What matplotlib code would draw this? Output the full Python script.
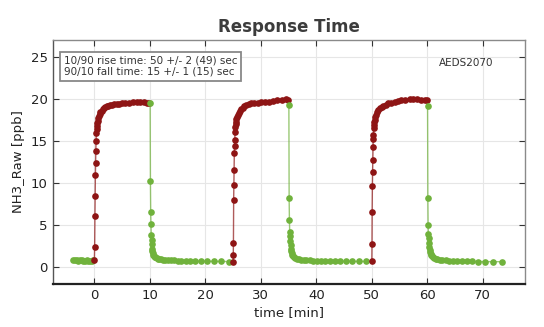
import matplotlib
matplotlib.use("Agg")
import matplotlib.pyplot as plt

# baseline before first step (green = falling / zero air, red = rising / gas on)
g0_t = [-3.8, -3.5, -3.2, -2.9, -2.6, -2.3, -2.0, -1.7, -1.4, -1.1, -0.8, -0.5, -0.2]
g0_v = [0.85, 0.9, 0.8, 0.75, 0.85, 0.8, 0.7, 0.75, 0.8, 0.75, 0.7, 0.75, 0.8]

r1_t = [0.0, 0.05, 0.1, 0.14, 0.18, 0.22, 0.26, 0.3, 0.35, 0.4, 0.45, 0.5, 0.6, 0.7,
        0.8, 0.95, 1.1, 1.3, 1.5, 1.7, 1.9, 2.2, 2.5, 2.8, 3.2, 3.6, 4.0, 4.5, 5.0,
        5.6, 6.2, 6.9, 7.6, 8.3, 9.0, 9.5, 9.9]
r1_v = [0.85, 2.4, 6.1, 8.5, 10.9, 12.4, 13.8, 15.0, 15.9, 16.4, 16.8, 17.1, 17.4, 17.7,
        17.9, 18.2, 18.4, 18.6, 18.8, 18.9, 19.0, 19.1, 19.2, 19.25, 19.3, 19.35, 19.4,
        19.4, 19.45, 19.5, 19.55, 19.6, 19.65, 19.6, 19.6, 19.55, 19.5]

g1_t = [10.05, 10.1, 10.15, 10.2, 10.25, 10.3, 10.35, 10.4, 10.45, 10.5, 10.6, 10.7,
        10.85, 11.0, 11.2, 11.4, 11.7, 12.0, 12.4, 12.8, 13.3, 13.8, 14.4, 15.0, 15.7,
        16.5, 17.3, 18.2, 19.2, 20.3, 21.5, 22.8, 24.2]
g1_v = [19.5, 10.2, 6.5, 5.1, 3.8, 3.2, 2.7, 2.2, 1.9, 1.7, 1.5, 1.35, 1.25, 1.15, 1.08,
        1.02, 0.97, 0.93, 0.9, 0.87, 0.84, 0.82, 0.8, 0.78, 0.77, 0.75, 0.74, 0.72, 0.71,
        0.7, 0.69, 0.68, 0.67]

r2_t = [25.0, 25.03, 25.06, 25.1, 25.14, 25.18, 25.22, 25.26, 25.3, 25.35, 25.4, 25.45,
        25.5, 25.6, 25.7, 25.85, 26.0, 26.2, 26.4, 26.7, 27.0, 27.4, 27.8, 28.3, 28.8,
        29.4, 30.0, 30.7, 31.4, 32.2, 33.0, 33.8, 34.5, 34.9]
r2_v = [0.67, 1.45, 2.85, 8.0, 9.8, 11.6, 13.6, 14.4, 15.15, 16.0, 16.6, 17.0, 17.3,
        17.6, 17.85, 18.1, 18.35, 18.55, 18.75, 18.95, 19.1, 19.25, 19.35, 19.45, 19.5,
        19.55, 19.6, 19.6, 19.65, 19.7, 19.8, 19.9, 19.95, 19.9]

g2_t = [35.05, 35.1, 35.15, 35.2, 35.25, 35.3, 35.35, 35.4, 35.5, 35.6, 35.7, 35.85,
        36.0, 36.2, 36.5, 36.8, 37.2, 37.7, 38.2, 38.8, 39.4, 40.1, 40.8, 41.6, 42.4,
        43.3, 44.3, 45.4, 46.5, 47.7, 48.9]
g2_v = [19.3, 8.2, 5.6, 4.2, 3.65, 3.05, 2.6, 2.2, 1.9, 1.65, 1.45, 1.3, 1.2, 1.1, 1.02,
        0.95, 0.9, 0.85, 0.82, 0.8, 0.78, 0.76, 0.75, 0.73, 0.72, 0.71, 0.7, 0.7, 0.69,
        0.68, 0.68]

r3_t = [50.0, 50.03, 50.06, 50.1, 50.14, 50.18, 50.22, 50.26, 50.3, 50.35, 50.4, 50.45,
        50.55, 50.65, 50.8, 51.0, 51.2, 51.5, 51.8, 52.1, 52.5, 53.0, 53.5, 54.1, 54.7,
        55.3, 56.0, 56.8, 57.5, 58.2, 58.9, 59.5, 59.95]
r3_v = [0.7, 2.8, 6.6, 9.6, 11.3, 12.7, 14.3, 15.2, 15.75, 16.5, 16.9, 17.2, 17.5, 17.8,
        18.1, 18.4, 18.65, 18.9, 19.05, 19.2, 19.3, 19.45, 19.55, 19.65, 19.7, 19.8, 19.9,
        20.0, 20.0, 19.95, 19.9, 19.9, 19.85]

g3_t = [60.05, 60.1, 60.15, 60.2, 60.25, 60.3, 60.35, 60.4, 60.5, 60.6, 60.7, 60.85,
        61.0, 61.2, 61.5, 61.8, 62.2, 62.7, 63.3, 63.9, 64.6, 65.4, 66.2, 67.1, 68.1,
        69.2, 70.4, 71.8, 73.4]
g3_v = [19.2, 8.2, 4.95, 3.95, 3.45, 2.9, 2.4, 2.05, 1.75, 1.55, 1.4, 1.27, 1.15, 1.05,
        0.97, 0.92, 0.87, 0.83, 0.8, 0.77, 0.75, 0.73, 0.71, 0.7, 0.68, 0.67, 0.66, 0.65,
        0.65]

rise_text = "10/90 rise time: 50 +/- 2 (49) sec\n90/10 fall time: 15 +/- 1 (15) sec"
sensor_name = "AEDS2070"

RED = "#8e1515"
GREEN = "#70b23c"


def main():
    plt.rcParams.update({
        "font.family": "DejaVu Sans",
        "figure.facecolor": "white",
    })
    fig = plt.figure(figsize=(5.44, 3.27), dpi=100)
    ax = fig.add_axes([0.097, 0.1315, 0.868, 0.7465])

    segments = [
        (g0_t, g0_v, GREEN),
        (r1_t, r1_v, RED),
        (g1_t, g1_v, GREEN),
        (r2_t, r2_v, RED),
        (g2_t, g2_v, GREEN),
        (r3_t, r3_v, RED),
        (g3_t, g3_v, GREEN),
    ]
    for t, v, c in segments:
        ax.plot(t, v, color=c, linewidth=1.0, alpha=0.7, zorder=2)
        ax.plot(t, v, linestyle="none", marker="o", markersize=4.8,
                color=c, markeredgewidth=0, zorder=3)

    ax.set_xlim(-7.5, 77.6)
    ax.set_ylim(-2, 27)
    ax.set_xticks(range(0, 80, 10))
    ax.set_yticks(range(0, 30, 5))
    ax.grid(True, color="#e6e6e6", linewidth=0.8, zorder=0)
    ax.set_axisbelow(True)
    ax.tick_params(direction="in", length=4, width=0.8, top=True, right=True,
                   labelsize=9.5, colors="#333333", labelcolor="#222222")

    for side in ["top", "right"]:
        ax.spines[side].set_color("#8a8a8a")
        ax.spines[side].set_linewidth(1.0)
    ax.spines["left"].set_color("#555555")
    ax.spines["left"].set_linewidth(1.0)
    ax.spines["bottom"].set_color("#222222")
    ax.spines["bottom"].set_linewidth(1.6)

    ax.set_title("Response Time", fontsize=12, fontweight="bold", color="#3c3c3c", pad=6)
    ax.set_xlabel("time [min]", fontsize=9.5, color="#222222", labelpad=3)
    ax.set_ylabel("NH3_Raw [ppb]", fontsize=9.5, color="#222222", labelpad=4)

    ax.text(0.024, 0.935, rise_text, transform=ax.transAxes, ha="left", va="top",
            fontsize=7.5, color="#333333", linespacing=1.15,
            bbox=dict(boxstyle="square,pad=0.35", facecolor="white",
                      edgecolor="#888888", linewidth=1.3), zorder=5)
    ax.text(0.934, 0.906, sensor_name, transform=ax.transAxes, ha="right", va="center",
            fontsize=7.5, color="#333333", zorder=5)

    fig.savefig("out.png", dpi=100)
    plt.close(fig)


if __name__ == "__main__":
    main()
